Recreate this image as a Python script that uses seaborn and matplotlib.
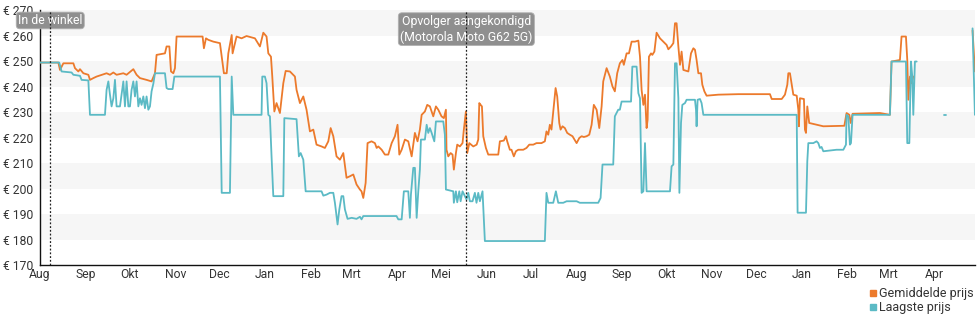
import numpy as np
import pandas as pd
import matplotlib
matplotlib.use("Agg")
import matplotlib.pyplot as plt
import matplotlib.dates as mdates
from matplotlib.lines import Line2D
import seaborn as sns

# ---------------- data ----------------
base_date = "2021-08-01"

# Gemiddelde prijs (average price): segments of (day offset, price)
avg_days_1 = [0, 12.5, 13.6, 15.9, 22.7, 23.8, 26.1, 27.2, 29.5, 32.9, 34, 36.3, 38.5, 45.3, 47.6,
              49.9, 52.1, 56.7, 58.9, 63.5, 65.7, 68, 72.5, 75.9, 78.2, 79.3, 85, 86.1, 88, 89.1,
              90.7, 91.8, 92.9, 110.6, 111.5, 112.9, 114.5, 117.9, 122.4, 124.2, 125.1, 127, 128.1,
              130.4, 131, 132.6, 133.7, 137.1, 140.5, 146.2, 149.6, 151.9, 154.1, 155.3, 157.1, 158,
              159.4, 160.9, 163.2, 165.5, 167.1, 170, 173.4, 174.5, 176.8, 179.1, 181.3, 183.6, 185.9,
              188.1, 191.5, 193.8, 196.1, 197.7, 199.5, 201.7, 204, 206.3, 208.5, 210.8, 213.1, 215.3,
              217.6, 218.7, 219.9, 221.5, 222.8, 225.5, 227.8, 229, 230.1, 232.4, 234.6, 236.9, 239.2,
              241.4, 243.2, 244.4, 246, 248.2, 250.5, 252.8, 255, 256.8, 258.4, 259.6, 261.8, 263.4,
              265.2, 267.5, 269.3, 270.9, 273.1, 274.7, 276.1, 276.5, 277.7, 279.3, 280.6, 281.5, 282.9,
              283.8, 285.6, 287.4, 288.3, 289.7, 290.6, 292, 294.7, 297, 298.1, 298.8, 299.7, 300.6,
              301.5, 303.3, 304.9, 311.7, 312.8, 315.5, 316.9, 317.8, 319.6, 320.7, 322.3, 323.7, 325.3,
              328.7, 330.9, 332.8, 335.5, 337.7, 341.1, 343.4, 344.5, 345.7, 346.8, 347.9, 349.5, 350.7,
              351.8, 353.2, 354.1, 355.4, 357, 358.6, 360.4, 362.2, 365, 366.8, 368.4, 369.9, 371.8,
              373.6, 375.2, 376.7, 378.6, 380.4, 382, 383.1, 385.4, 387.6, 389.4, 391, 392.6, 394.4,
              396.2, 397.1, 399, 400.6, 402.4, 404.7, 407, 408.1, 409.2, 410.4, 411.5, 412.6, 413.3,
              414.2, 415.6, 416.5, 417.9, 419.4, 421.7, 424, 426.2, 427.4, 429.2, 430.8, 431.9, 433,
              434.2, 435.3, 436.4, 437.6, 441, 442.8, 444.4, 445.5, 446.6, 447.8, 449.6, 450.5, 451.9,
              453.4, 461.4, 475, 496.5, 497.7, 504.5, 506.7, 508.3, 509, 510.1, 511.3, 512.4, 514.7,
              515.8, 516.2, 516.9, 519.6, 520.3, 521, 521.9, 523.2, 528.2, 532.8, 547.1, 548.6, 550.5,
              551.4, 552.7, 571.3, 578.1, 579.2, 584.9, 586, 589, 589.9, 590.6, 591.7, 592.9, 594]
avg_vals_1 = [249.4, 249.4, 246.5, 249.1, 249.1, 247.2, 245.9, 246.8, 245.2, 244.6, 242.6, 243.3, 243.9,
              245.2, 244.6, 245.5, 244.6, 245.2, 244.6, 246.8, 244.6, 243.3, 242.6, 242.0, 245.2, 252.4,
              253.0, 255.7, 255.7, 245.9, 245.2, 247.2, 259.6, 259.6, 255.0, 258.9, 258.3, 257.6, 257.0,
              249.1, 245.2, 245.2, 253.0, 260.2, 253.0, 257.0, 259.6, 258.9, 259.8, 258.9, 255.7, 261.1,
              259.6, 253.0, 251.7, 243.9, 230.2, 233.5, 229.6, 241.3, 246.1, 245.9, 243.9, 238.7, 233.5,
              236.1, 230.9, 222.4, 223.1, 217.2, 216.5, 215.9, 218.5, 223.7, 220.5, 212.6, 211.3, 213.9,
              204.2, 204.8, 205.5, 201.6, 199.6, 198.9, 196.3, 202.2, 217.8, 218.5, 217.8, 215.9, 216.5,
              215.2, 213.3, 213.3, 217.8, 220.5, 225.0, 213.3, 215.2, 219.2, 218.5, 212.6, 221.8, 218.5,
              223.1, 228.9, 230.2, 232.8, 232.2, 228.3, 232.2, 230.9, 228.3, 227.6, 230.9, 215.2, 212.6,
              213.9, 213.3, 207.4, 213.9, 217.2, 216.5, 217.8, 223.1, 230.2, 213.9, 217.8, 216.5, 217.2,
              219.2, 233.5, 232.8, 232.2, 220.5, 215.9, 213.3, 213.3, 218.5, 218.8, 220.5, 218.5, 215.2,
              215.2, 212.6, 214.6, 215.2, 215.2, 215.9, 217.2, 217.2, 217.8, 217.8, 218.5, 222.4, 221.1,
              225.0, 223.1, 232.2, 239.4, 236.1, 225.7, 223.1, 224.4, 223.7, 221.8, 221.1, 220.5, 217.8,
              219.8, 220.5, 220.2, 220.5, 221.1, 225.0, 232.8, 230.9, 223.7, 232.2, 242.0, 247.2, 243.9,
              240.0, 238.1, 245.2, 249.1, 250.4, 248.5, 253.0, 253.0, 257.6, 257.6, 258.0, 251.7, 238.7,
              232.8, 236.8, 223.7, 227.0, 251.7, 253.0, 252.4, 253.7, 261.1, 258.9, 257.6, 256.3, 254.6,
              255.7, 257.0, 264.8, 264.8, 255.7, 248.5, 253.7, 246.5, 245.9, 253.0, 255.0, 254.4, 250.4,
              245.2, 245.2, 240.7, 238.1, 236.4, 236.8, 237.0, 237.0, 235.1, 235.1, 236.8, 240.7, 245.2,
              245.2, 240.7, 236.8, 236.4, 230.9, 224.4, 235.4, 235.1, 223.1, 221.8, 232.2, 225.7, 225.0,
              224.4, 224.6, 229.6, 228.9, 225.7, 229.3, 229.6, 228.9, 249.8, 250.4, 259.6, 259.6, 250.4,
              234.8, 243.9, 241.3, 243.9]
avg_days_2 = [634.3, 635.9]
avg_vals_2 = [262.0, 245.9]

# Laagste prijs (lowest price)
low_days_1 = [0, 13.1, 14.7, 21.5, 22.7, 27.2, 28.3, 32.9, 34, 44.2, 45.3, 46.5, 47.6, 48.7, 49.9, 51,
              52.1, 54.4, 55.5, 56.7, 57.8, 58.9, 60.1, 61.2, 62.3, 63.5, 64.6, 65.7, 66.9, 68, 69.1,
              70.3, 71.4, 72.5, 73.7, 74.8, 75.9, 77.1, 78.2, 85, 86.1, 87.3, 90.2, 91.4, 122.4, 123.6,
              129.2, 130.4, 131.5, 150.7, 151.2, 153, 154.1, 155.3, 156.4, 157.5, 158.7, 165.5, 166.2,
              174.5, 176.1, 177.3, 179.1, 180.7, 191.5, 192.7, 194.9, 197.2, 199.5, 200.6, 202.4, 203.6,
              205.1, 206.3, 207.4, 209.2, 212, 215.3, 217.6, 218.7, 219.9, 242.5, 243.7, 246, 247.5,
              250.5, 251.6, 252.3, 253.9, 255, 256.2, 257.3, 258.4, 259.1, 261.8, 263, 264.1, 265.2,
              266.4, 268.2, 269.3, 274.3, 275.4, 276.1, 281.1, 281.5, 282.9, 283.8, 285.2, 286.1, 287.4,
              289, 290.1, 291.3, 292.4, 294.2, 295.8, 296.9, 298.1, 299.2, 301, 302.6, 343.4, 344.5,
              345.7, 349.1, 350.9, 352.5, 355.9, 358.2, 365, 367.2, 379.7, 381.3, 382.6, 389.9, 391,
              393.3, 394.4, 395.6, 400.1, 402, 402.9, 405.8, 407, 408.1, 409.2, 410.4, 411.5, 412.6,
              428.5, 429.6, 430.8, 431.9, 433, 434.2, 434.9, 436, 436.9, 438.7, 439.8, 445.5, 446.2,
              446.6, 447.3, 448.9, 450, 451.2, 514.7, 515.3, 521, 521.9, 522.6, 526, 528.2, 529.4,
              530.5, 531.6, 532.8, 541.8, 546.4, 548.2, 548.6, 549.8, 550.9, 551.6, 552.7, 578.1,
              579.2, 589, 589.9, 591.3, 592.4, 593.3, 594, 595.1, 596.3]
low_vals_1 = [249.4, 249.4, 245.9, 245.5, 244.6, 244.2, 242.6, 242.4, 228.9, 228.9, 238.7, 242.0, 236.8,
              232.2, 235.4, 242.6, 232.2, 232.2, 236.8, 242.0, 232.2, 242.0, 232.2, 232.2, 238.7, 242.0,
              236.1, 242.0, 232.2, 235.4, 232.8, 236.1, 231.5, 236.1, 230.9, 232.2, 238.1, 241.1, 245.2,
              245.2, 239.4, 239.0, 239.0, 243.9, 243.9, 198.3, 198.3, 243.9, 228.9, 228.9, 243.9, 243.9,
              241.3, 228.9, 228.3, 212.6, 197.0, 197.0, 227.6, 227.2, 212.6, 213.9, 211.3, 198.9, 198.9,
              197.2, 197.6, 198.3, 198.3, 194.4, 185.9, 191.8, 197.0, 197.0, 191.8, 188.1, 188.5, 188.1,
              188.9, 187.9, 189.2, 189.2, 187.9, 187.9, 198.9, 198.9, 188.5, 197.6, 208.1, 208.1, 188.5,
              198.9, 207.4, 219.2, 219.2, 225.0, 221.8, 223.7, 221.8, 218.5, 226.3, 226.3, 221.1, 199.6,
              198.9, 194.4, 198.9, 194.6, 198.9, 195.0, 198.9, 197.0, 195.7, 198.3, 195.0, 195.0, 198.3,
              194.4, 198.3, 195.0, 198.9, 179.4, 179.4, 198.3, 194.4, 194.4, 198.9, 194.4, 194.4, 195.0,
              195.0, 194.4, 194.4, 196.3, 209.4, 209.4, 228.3, 230.9, 230.9, 234.1, 234.1, 234.1, 247.8,
              247.8, 237.4, 235.4, 198.3, 198.9, 217.8, 198.9, 198.9, 208.7, 209.4, 249.1, 249.1, 235.4,
              198.3, 225.7, 232.8, 233.5, 234.8, 234.8, 230.9, 224.4, 234.8, 235.1, 233.5, 228.9, 228.9,
              190.5, 190.5, 210.7, 217.8, 217.8, 218.5, 217.8, 215.9, 216.3, 214.6, 215.2, 215.2, 217.2,
              228.9, 228.3, 217.2, 217.8, 228.9, 228.9, 249.8, 249.8, 217.8, 217.8, 249.8, 243.9, 228.9,
              249.8, 249.8]
low_days_2 = [615.0, 616.0]
low_vals_2 = [228.9, 228.9]
low_days_3 = [634.3, 635.9]
low_vals_3 = [262.8, 228.9]

series_names = ["Gemiddelde prijs", "Laagste prijs"]
series_colors = ["#ec7a2c", "#5bbac5"]

event_dates = ["2021-08-08", "2022-05-18"]
event_labels = ["In de winkel", "Opvolger aangekondigd\n(Motorola Moto G62 5G)"]
event_label_y = [265.9, 262.5]

month_ticks = pd.date_range("2021-08-01", "2023-04-01", freq="MS")
month_names = ["Aug", "Sep", "Okt", "Nov", "Dec", "Jan", "Feb", "Mrt", "Apr", "Mei", "Jun", "Jul"]
y_ticks = [170, 180, 190, 200, 210, 220, 230, 240, 250, 260, 270]
x_end_day = 635.9

# ---------------- build table ----------------
rows = []
segments = [
    (series_names[0], "a1", avg_days_1, avg_vals_1),
    (series_names[0], "a2", avg_days_2, avg_vals_2),
    (series_names[1], "l1", low_days_1, low_vals_1),
    (series_names[1], "l2", low_days_2, low_vals_2),
    (series_names[1], "l3", low_days_3, low_vals_3),
]
t0 = pd.Timestamp(base_date)
for name, seg, ds, vs in segments:
    for d, v in zip(ds, vs):
        rows.append({"date": t0 + pd.to_timedelta(d, unit="D"), "prijs": v,
                     "serie": name, "seg": seg})
df = pd.DataFrame(rows)

# ---------------- plot ----------------
sns.set_style("white")
plt.rcParams["font.family"] = ["Roboto", "DejaVu Sans"]

fig = plt.figure(figsize=(9.8, 3.25), dpi=100)
ax = fig.add_axes([0.0408, 0.1846, 0.954, 0.7846])

for lo in range(180, 270, 20):
    ax.axhspan(lo, lo + 10, color="#f6f6f6", lw=0, zorder=0)

sns.lineplot(data=df, x="date", y="prijs", hue="serie", units="seg", estimator=None,
             palette=dict(zip(series_names, series_colors)), hue_order=series_names,
             lw=1.3, sort=False, legend=False, ax=ax, zorder=3)

for d, lab, yy in zip(event_dates, event_labels, event_label_y):
    dt = pd.Timestamp(d)
    ax.text(dt, yy, lab, ha="center", va="center", fontsize=8.8, color="white",
            linespacing=1.25, zorder=4, clip_on=False,
            bbox=dict(boxstyle="round,pad=0.15,rounding_size=0.3", fc="#8f8f8f", ec="#b0b0b0", lw=0.6))
    ax.axvline(dt, color="#222222", ls=(0, (1.5, 1.5)), lw=0.9, zorder=5)

ax.set_xlim(t0, t0 + pd.to_timedelta(x_end_day, unit="D"))
ax.set_ylim(170, 270)
ax.set_yticks(y_ticks)
ax.set_yticklabels([f"€ {v}" for v in y_ticks])
ax.set_xticks(month_ticks)
ax.set_xticklabels([month_names[(m.month - 8) % 12] for m in month_ticks])
ax.set_xlabel("")
ax.set_ylabel("")

for s in ["top", "right"]:
    ax.spines[s].set_visible(False)
for s in ["left", "bottom"]:
    ax.spines[s].set_color("#111111")
    ax.spines[s].set_linewidth(1.0)
ax.tick_params(axis="y", direction="out", length=4, width=0.9, color="#111111",
               labelsize=8.7, labelcolor="#333333", pad=1)
ax.tick_params(axis="x", direction="inout", length=5, width=0.9, color="#111111",
               labelsize=8.7, labelcolor="#333333", pad=0)

handles = [Line2D([], [], marker="s", ls="none", color=c, markersize=5.0) for c in series_colors]
fig.legend(handles, series_names, loc="lower right", bbox_to_anchor=(1.0, 0.015),
           frameon=False, fontsize=9, handletextpad=0.0, labelspacing=0.05,
           borderaxespad=0.1, handlelength=1.0, labelcolor="#333333")

fig.savefig("out.png", dpi=100)
